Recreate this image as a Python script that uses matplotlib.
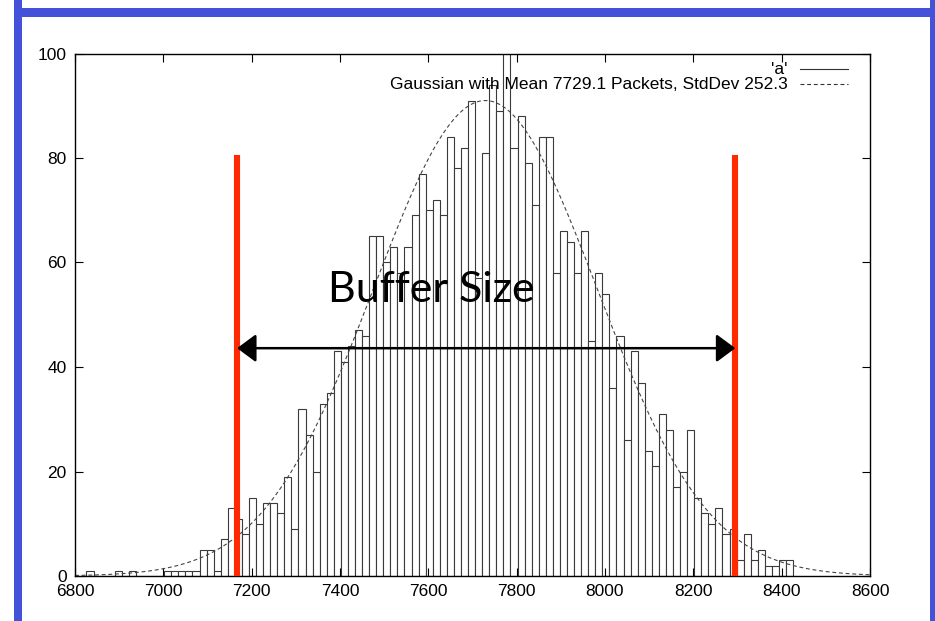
import numpy as np
import matplotlib
matplotlib.use("Agg")
import matplotlib.pyplot as plt
from matplotlib.lines import Line2D
import matplotlib.patches as patches

# histogram of queue occupancy, bins of 16 packets
bin_start = 6826
bin_width = 16
counts = [1, 0, 0, 0, 1, 0, 1, 0, 0, 0,
          0, 1, 1, 1, 1, 1, 5, 5, 1, 7,
          13, 11, 8, 15, 10, 14, 14, 12, 19, 9,
          32, 27, 20, 33, 35, 43, 41, 44, 47, 46,
          65, 65, 60, 63, 58, 63, 69, 77, 70, 72,
          69, 84, 78, 82, 91, 57, 81, 94, 89, 104,
          82, 88, 79, 71, 84, 84, 58, 66, 64, 58,
          66, 45, 58, 54, 36, 46, 26, 43, 37, 24,
          21, 31, 28, 17, 20, 28, 15, 12, 10, 13,
          8, 9, 3, 8, 3, 5, 2, 2, 3, 3]

# fitted normal curve
fit_mean = 7729.1
fit_std = 252.3
fit_peak = 91.0

# buffer limits marked on the plot
buffer_lo = 7167
buffer_hi = 8295
marker_top = 80.5
arrow_y = 43.6

x_ticks = [6800, 7000, 7200, 7400, 7600, 7800, 8000, 8200, 8400, 8600]
y_ticks = [0, 20, 40, 60, 80, 100]
key_labels = ["'a'", "Gaussian with Mean 7729.1 Packets, StdDev 252.3"]

plt.rcParams['font.family'] = ['Liberation Sans', 'DejaVu Sans']

fig = plt.figure(figsize=(9.35, 6.21), dpi=100)
W, H = 935, 621

# blue slide frame (left, top, right)
blue = '#4451d9'
for (x0, y0, w, h) in [(14, 0, 8, 621), (14, 604, 921, 9), (930, 0, 5, 621)]:
    fig.patches.append(patches.Rectangle((x0 / W, y0 / H), w / W, h / H,
                                         transform=fig.transFigure,
                                         facecolor=blue, edgecolor='none'))

ax = fig.add_axes([75 / W, (H - 576) / H, 795 / W, 522.5 / H])

lefts = bin_start + bin_width * np.arange(len(counts))
ax.bar(lefts, counts, width=bin_width, align='edge', facecolor='white',
       edgecolor='#3a3a3a', linewidth=0.8)

xs = np.linspace(6800, 8600, 600)
ax.plot(xs, fit_peak * np.exp(-0.5 * ((xs - fit_mean) / fit_std) ** 2),
        color='#444444', linewidth=0.8, dashes=(3.5, 2.5))

for xb in (buffer_lo, buffer_hi):
    ax.plot([xb, xb], [0, marker_top], color='#ff2a00', linewidth=4.4,
            solid_capstyle='butt', zorder=5)

ax.annotate('', xy=(buffer_hi, arrow_y), xytext=(buffer_lo, arrow_y),
            arrowprops=dict(arrowstyle='<|-|>,head_length=0.58,head_width=0.43',
                            mutation_scale=20, color='black', lw=1.8,
                            shrinkA=0, shrinkB=0), zorder=6)

ax.text((buffer_lo + buffer_hi) / 2 - 125, 52.4, 'Buffer Size', family='Lato',
        fontsize=31, ha='center', va='baseline', zorder=6)

# key in the top right corner, text right-aligned before the sample line
key_styles = [dict(linestyle='-'), dict(dashes=(3.5, 2.5))]
for i, (lab, st) in enumerate(zip(key_labels, key_styles)):
    yk = 0.970 - 0.0285 * i
    ax.text(0.8968, yk, lab, transform=ax.transAxes, ha='right', va='center',
            fontsize=12.5)
    ax.add_line(Line2D([0.912, 0.972], [yk, yk], transform=ax.transAxes,
                       color='#333333', linewidth=0.8, **st))

ax.set_xlim(6800, 8600)
ax.set_ylim(0, 100)
ax.set_xticks(x_ticks)
ax.set_yticks(y_ticks)
ax.tick_params(direction='in', length=5.5, width=0.8, top=True, right=True,
               labelsize=12.5, pad=6)
for s in ax.spines.values():
    s.set_linewidth(1.0)

fig.savefig('out.png', dpi=100)
